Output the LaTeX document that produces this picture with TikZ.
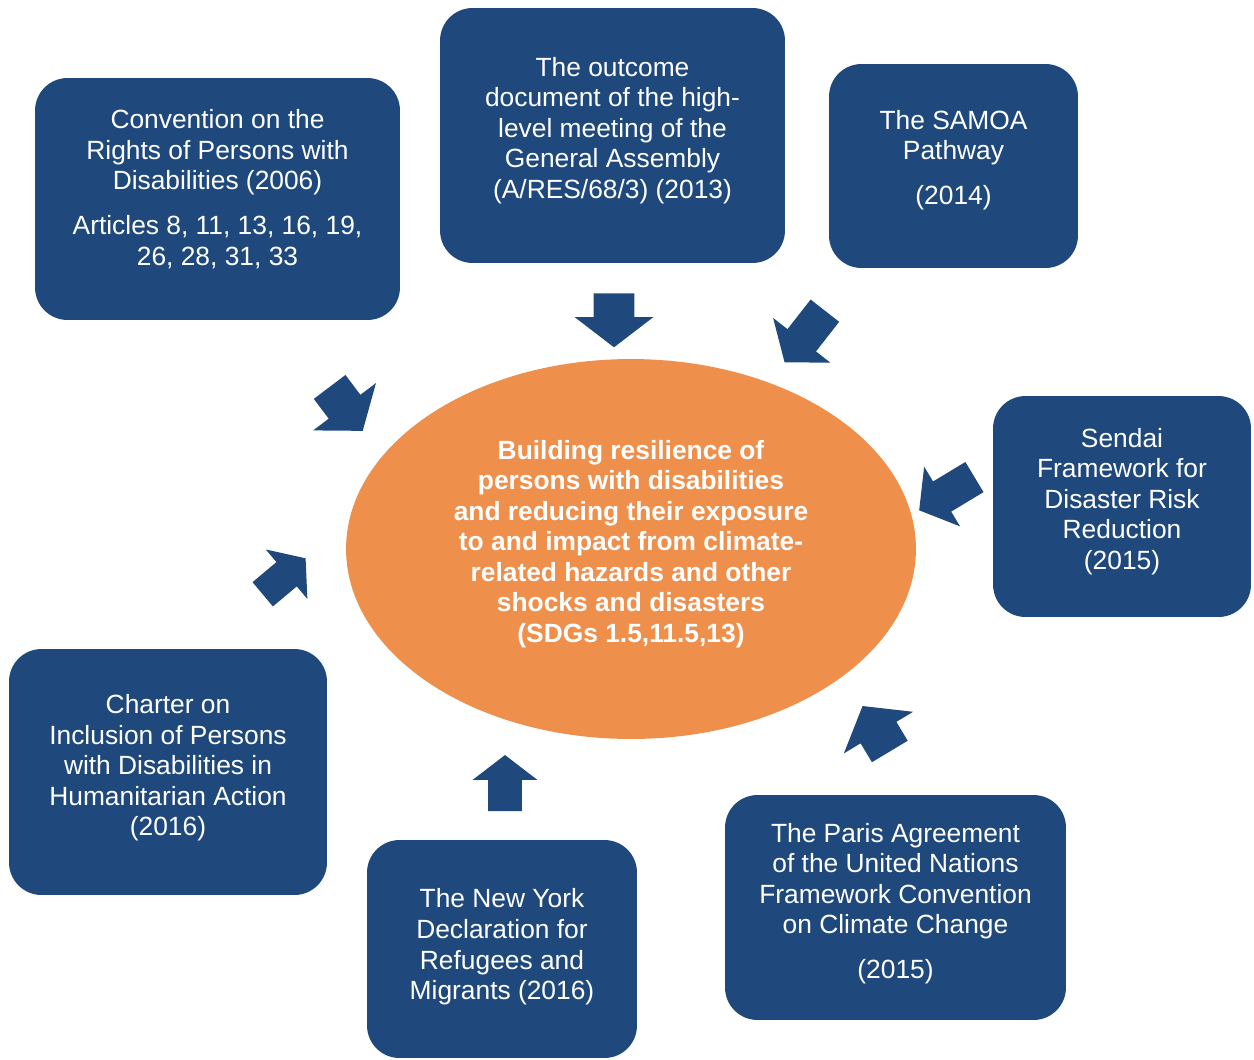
\documentclass[tikz,border=0pt]{standalone}
\usepackage{fontspec}
\setmainfont{Liberation Sans}
\usetikzlibrary{shapes.geometric, shapes.arrows}
\definecolor{unblue}{RGB}{31,73,125}
\definecolor{unorange}{RGB}{239,143,76}

\begin{document}
\begin{tikzpicture}[
  x=0.02cm, y=-0.02cm,
  docbox/.style={
    rectangle, rounded corners=0.65cm,
    draw=none, fill=unblue, inner sep=0pt},
  doctxt/.style={
    text=white, align=center, inner sep=0pt,
    font=\fontsize{15}{17.4}\selectfont},
  goal/.style={
    ellipse, draw=none, fill=unorange,
    inner sep=0pt, minimum width=11.4cm, minimum height=7.6cm},
  blk/.style n args={4}{
    single arrow, draw=none, fill=unblue,
    inner xsep=0pt, single arrow tip angle=105,
    rotate=#1, minimum height=#2cm,
    inner ysep=#3cm, single arrow head extend=#4cm}
]
\useasboundingbox (0,0) rectangle (1254,1059);

%% Frameworks round the goal
\node[docbox, minimum width=7.3cm,  minimum height=4.84cm] (crpd)    at (217.5,199) {};
\node[docbox, minimum width=6.9cm,  minimum height=5.1cm]  (hlm)     at (612.5,135.5) {};
\node[docbox, minimum width=4.98cm, minimum height=4.08cm] (samoa)   at (953.5,166) {};
\node[docbox, minimum width=5.16cm, minimum height=4.42cm] (sendai)  at (1122,506.5) {};
\node[docbox, minimum width=6.82cm, minimum height=4.5cm]  (paris)   at (895.5,907.5) {};
\node[docbox, minimum width=5.4cm,  minimum height=4.36cm] (nyd)     at (502,949) {};
\node[docbox, minimum width=6.36cm, minimum height=4.92cm] (charter) at (168,772) {};

\node[doctxt] (crpd-txt) at ([yshift=0.2cm]crpd.center)
  {Convention on the\\Rights of Persons with\\Disabilities (2006)\\[8pt]
   Articles 8, 11, 13, 16, 19,\\26, 28, 31, 33};
\node[doctxt] (hlm-txt) at ([yshift=0.1cm]hlm.center)
  {The outcome\\document of the high-\\level meeting of the\\General Assembly\\(A/RES/68/3) (2013)};
\node[doctxt] (samoa-txt) at ([yshift=0.12cm]samoa.center)
  {The SAMOA\\Pathway\\[8pt](2014)};
\node[doctxt] (sendai-txt) at ([yshift=0.1cm]sendai.center)
  {Sendai\\Framework for\\Disaster Risk\\Reduction\\(2015)};
\node[doctxt] (paris-txt) at ([yshift=0.08cm]paris.center)
  {The Paris Agreement\\of the United Nations\\Framework Convention\\on Climate Change\\[8pt](2015)};
\node[doctxt] (nyd-txt) at ([yshift=0.04cm]nyd.center)
  {The New York\\Declaration for\\Refugees and\\Migrants (2016)};
\node[doctxt] (charter-txt) at ([yshift=0.08cm]charter.center)
  {Charter on\\Inclusion of Persons\\with Disabilities in\\Humanitarian Action\\(2016)};

%% Central goal
\node[goal] (goal) at (631,549) {};
\node[doctxt, font=\fontsize{15}{17.4}\selectfont\bfseries] (goal-txt) at ([yshift=0.1cm]goal.center)
  {Building resilience of\\persons with disabilities\\and reducing their exposure\\
   to and impact from climate-\\related hazards and other\\shocks and disasters\\(SDGs 1.5,11.5,13)};

%% Block arrows towards the goal
\node[blk={-90}{1.08}{0.40}{0.38}]    (a-hlm)     at (614,312.5) {};
\node[blk={232}{1.31}{0.355}{0.365}]  (a-samoa)   at (809,331) {};
\node[blk={-53}{1.10}{0.39}{0.39}]    (a-crpd)    at (341.6,402.8) {};
\node[blk={211}{1.29}{0.345}{0.345}]  (a-sendai)  at (952.6,490.2) {};
\node[blk={40}{1.12}{0.31}{0.33}]     (a-charter) at (279.5,580.2) {};
\node[blk={90}{1.12}{0.33}{0.31}]     (a-nyd)     at (505,789.5) {};
\node[blk={121}{1.06}{0.41}{0.39}]    (a-paris)   at (880.3,735.6) {};

\end{tikzpicture}
\end{document}
